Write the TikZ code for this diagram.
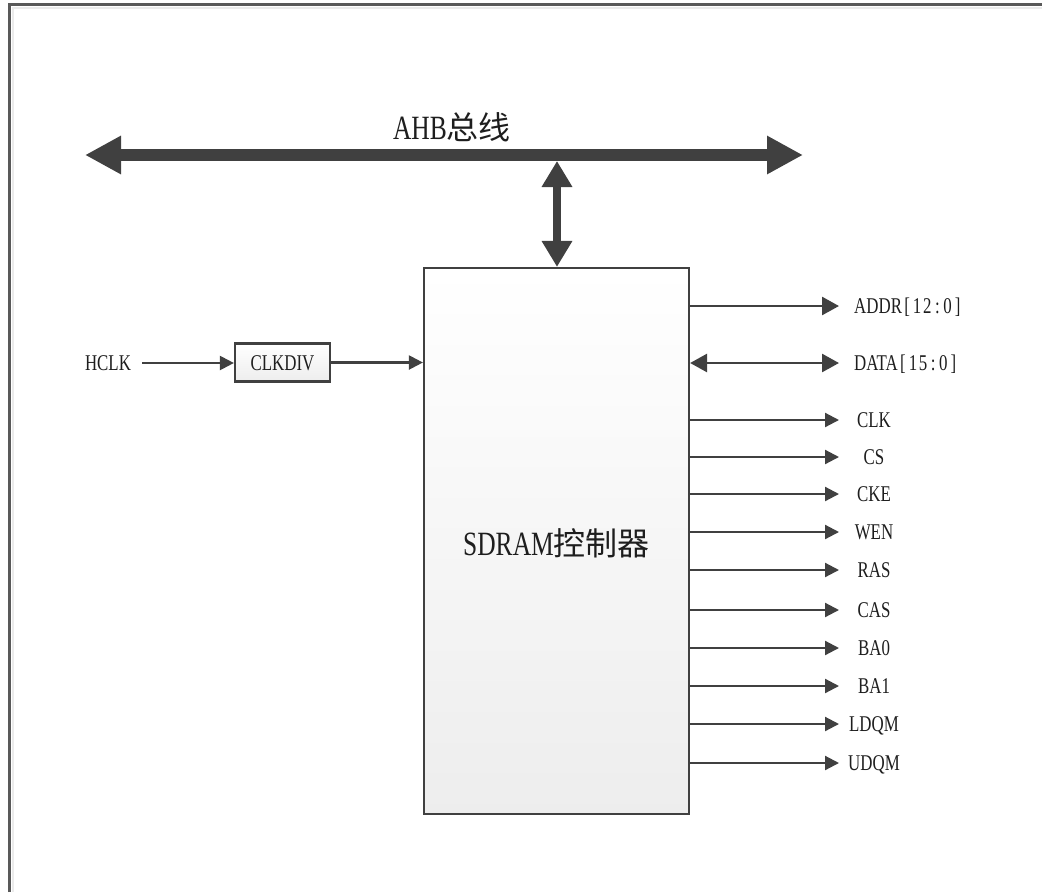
\documentclass[tikz,border=0pt]{standalone}
\usepackage{fontspec}
\setmainfont[FakeStretch=0.75]{Liberation Serif}
\newfontfamily\cjk{Noto Sans CJK SC}
\usetikzlibrary{arrows.meta}
\definecolor{ln}{HTML}{404040}
\definecolor{tx}{HTML}{1E1E1E}
\newcommand\mcell[1]{\makebox[0.45em]{#1}}
\def\monoit#1{\monoitA#1\relax}
\def\monoitA#1{\ifx\relax#1\else\mcell{#1}\expandafter\monoitA\fi}
\newcommand\cjkbig[1]{{\fontsize{32}{32}\selectfont\cjk #1}}
\begin{document}
\begin{tikzpicture}[x=1pt,y=-1pt,
  sig/.style={draw=ln, line width=2.2pt, -{Triangle[length=14pt,width=14pt]}},
  wsig/.style={draw=ln, line width=2.7pt, -{Triangle[length=17pt,width=18pt]}},
  wbi/.style={draw=ln, line width=2.7pt, {Triangle[length=17pt,width=18pt]}-{Triangle[length=17pt,width=18pt]}},
  bus/.style={draw=ln, line width=12pt, {Triangle[length=36pt,width=36pt]}-{Triangle[length=36pt,width=36pt]}},
  vbus/.style={draw=ln, line width=8pt, {Triangle[length=26pt,width=29pt]}-{Triangle[length=26pt,width=29pt]}},
  lbl/.style={font=\fontsize{22.5}{22.5}\selectfont, text=tx, inner sep=0pt, text height=15pt, text depth=0pt},
  big/.style={font=\fontsize{34}{34}\selectfont, text=tx, inner sep=0pt},
  blk/.style={draw=ln, line width=2.2pt, top color=white, bottom color=black!7}
]
\useasboundingbox (0,0) rectangle (1042,892);
\fill[white] (0,0) rectangle (1042,892);
% frame
\draw[black!8, line width=2pt] (13,892) -- (13,8) -- (1042,8);
\draw[black!65, line width=2.5pt] (9.5,892) -- (9.5,4.5) -- (1042,4.5);

% AHB bus
\coordinate (busL) at (85,155);
\coordinate (busR) at (803,155);
\coordinate (busT) at (557,161);
\draw[bus] (busL) -- (busR);
\node[big] (ahb) at (452,127) {AHB\cjkbig{总线}};

% SDRAM controller
\node[blk, minimum width=265pt, minimum height=546pt, inner sep=0pt] (sdram) at (556.5,541) {};
\node[big] (sdtxt) at (556.5,543) {SDRAM\cjkbig{控制器}};
\draw[vbus] (busT) -- (sdram.north -| busT);

% clock path
\node[lbl] (hclk) at (108,363) {HCLK};
\node[blk, lbl, minimum width=95pt, minimum height=38pt, inner sep=0pt] (clkdiv) at (282.5,362.5) {CLKDIV};
\draw[sig, shorten <=11pt] (hclk.east) -- (hclk.east -| clkdiv.west);
\draw[sig] (clkdiv.east) -- (clkdiv.east -| sdram.west);

% wide outputs
\coordinate (tADDR) at (839,306);
\coordinate (tDATA) at (839,363);
\node[lbl, anchor=west] (lADDR) at (854,306) {ADDR\monoit{[12:0]}};
\node[lbl, anchor=west] (lDATA) at (854,363) {DATA\monoit{[15:0]}};
\draw[wsig] (sdram.east |- tADDR) -- (tADDR);
\draw[wbi] (sdram.east |- tDATA) -- (tDATA);

% control outputs
\foreach \n/\y in {CLK/420, CS/457, CKE/494, WEN/532, RAS/570, CAS/610, BA0/648, BA1/686, LDQM/724, UDQM/763} {
  \coordinate (t\n) at (839,\y);
  \node[lbl] (l\n) at (874,\y) {\n};
  \draw[sig] (sdram.east |- t\n) -- (t\n);
}
\end{tikzpicture}
\end{document}
